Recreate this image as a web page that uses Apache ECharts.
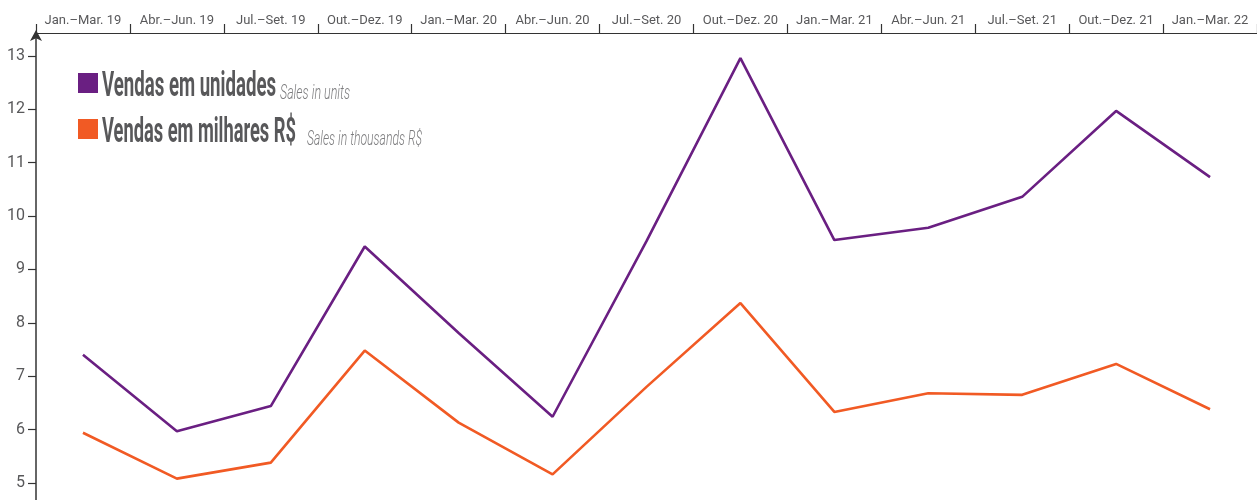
<!DOCTYPE html>
<html>
<head>
<meta charset="utf-8">
<script src="https://cdn.jsdelivr.net/npm/echarts@6/dist/echarts.min.js"></script>
<style>
html,body{margin:0;padding:0;background:#fff;}
#c{width:1257px;height:500px;}
</style>
</head>
<body>
<div id="c"></div>
<script>
var categories = ['Jan.–Mar. 19','Abr.–Jun. 19','Jul.–Set. 19','Out.–Dez. 19','Jan.–Mar. 20','Abr.–Jun. 20','Jul.–Set. 20','Out.–Dez. 20','Jan.–Mar. 21','Abr.–Jun. 21','Jul.–Set. 21','Out.–Dez. 21','Jan.–Mar. 22'];
var unitsValues = [7.40, 5.97, 6.44, 9.43, 7.81, 6.24, 9.53, 12.96, 9.55, 9.78, 10.36, 11.97, 10.73];
var thousandsValues = [5.94, 5.08, 5.38, 7.48, 6.13, 5.16, 6.80, 8.37, 6.33, 6.68, 6.65, 7.23, 6.38];
var yTickValues = [5, 6, 7, 8, 9, 10, 11, 12, 13];
var seriesNames = ['Vendas em unidades', 'Vendas em milhares R$'];
var seriesSubtitles = ['Sales in units', 'Sales in thousands R$'];

var COLORS = ['#6a1f82', '#f15a24'];
var FONT = "Roboto, 'Noto Sans', sans-serif";
var TEXT = '#58585a';
var SUB = '#7c7c7e';

// measure helper to emulate a condensed display face with a horizontal scale
var mctx = document.createElement('canvas').getContext('2d');
function scaleFor(str, font, targetW) {
  mctx.font = font;
  return targetW / mctx.measureText(str).width;
}

var legendLayout = [
  {top: 73, nameW: 174, subX: 280, subW: 70},
  {top: 119, nameW: 194, subX: 307, subW: 115}
];
var graphics = [];
seriesNames.forEach(function (name, i) {
  var L = legendLayout[i];
  var bigFont = 'bold 35px Roboto';
  var subFont = 'italic 300 21px Roboto';
  graphics.push({
    type: 'rect', left: 78, top: L.top,
    shape: {width: 20, height: 20},
    style: {fill: COLORS[i]}
  });
  graphics.push({
    type: 'text', x: 102, y: L.top + 32, scaleX: scaleFor(name, bigFont, L.nameW),
    style: {text: name, font: bigFont, fill: TEXT, verticalAlign: 'bottom', align: 'left'}
  });
  graphics.push({
    type: 'text', x: L.subX, y: L.top + 31, scaleX: scaleFor(seriesSubtitles[i], subFont, L.subW),
    style: {text: seriesSubtitles[i], font: subFont, fill: SUB, verticalAlign: 'bottom', align: 'left'}
  });
});

var chart = echarts.init(document.getElementById('c'), null, {renderer: 'canvas'});
chart.setOption({
  animation: false,
  backgroundColor: '#ffffff',
  grid: {left: 36, right: 0, top: 33, bottom: 0, containLabel: false},
  legend: {show: false, data: seriesNames},
  graphic: graphics,
  xAxis: {
    type: 'category',
    position: 'top',
    data: categories,
    boundaryGap: true,
    axisLine: {onZero: false, lineStyle: {color: '#333', width: 1.2}},
    axisTick: {show: true, length: 9, inside: false, interval: 0, lineStyle: {color: '#333', width: 1.2}},
    axisLabel: {fontFamily: FONT, fontSize: 13, color: TEXT, margin: 6, interval: 0, hideOverlap: false},
    splitLine: {show: false}
  },
  yAxis: {
    type: 'value',
    min: 4.68,
    max: 13.43,
    axisLine: {show: true, onZero: false, symbol: ['none', 'arrow'], symbolSize: [9, 11], symbolOffset: [0, 3], lineStyle: {color: '#333', width: 1.5}},
    axisTick: {show: true, length: 8, customValues: yTickValues, lineStyle: {color: '#333', width: 1.2}},
    axisLabel: {fontFamily: FONT, fontSize: 16, color: TEXT, margin: 11, customValues: yTickValues},
    splitLine: {show: false}
  },
  series: [
    {
      name: seriesNames[0], type: 'line', data: unitsValues,
      symbol: 'none', lineStyle: {color: COLORS[0], width: 2.6}, itemStyle: {color: COLORS[0]}
    },
    {
      name: seriesNames[1], type: 'line', data: thousandsValues,
      symbol: 'none', lineStyle: {color: COLORS[1], width: 2.6}, itemStyle: {color: COLORS[1]}
    }
  ]
});
</script>
</body>
</html>
